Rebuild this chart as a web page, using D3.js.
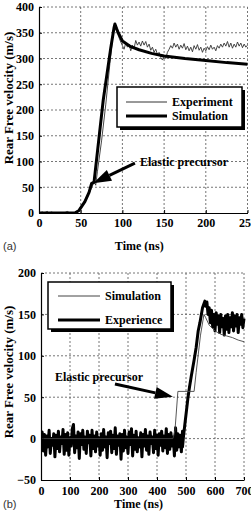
<!DOCTYPE html>
<html>
<head>
<meta charset="utf-8">
<script src="https://cdn.jsdelivr.net/npm/d3@7"></script>
<style>
  body { margin: 0; background: #fff; }
  svg { display: block; }
</style>
</head>
<body>
<svg id="chart" width="251" height="520"></svg>
<script>
// ---- panel (a) data ----
var aXTicks = [0, 50, 100, 150, 200, 250];
var aYTicks = [0, 50, 100, 150, 200, 250, 300, 350, 400];
var aExperiment = [
  [0,0],[4,2],[6,0],[10,3],[12,0],[15,2],[18,0],[30,0],[34,3],[37,0],[42,0],[46,3],[50,12],
  [55,24],[60,38],[64,52],[65,58],[67,58],[68,54],[70,80],[75,140],[80,210],[85,290],[89,350],
  [91,368],[93,362],[95,345],[97,336],[100,325],[102,318],[104,330],[106,322],[108,328],[110,315],
  [112,326],[114,320],[116,335],[118,326],[120,332],[122,324],[124,334],[126,326],[128,333],[130,322],
  [132,328],[134,316],[136,322],[138,312],[140,318],[142,308],[144,312],[146,302],[148,297],[150,306],
  [152,300],[154,312],[156,318],[158,325],[160,320],[162,330],[164,322],[166,328],[168,318],[170,326],
  [172,320],[174,329],[176,317],[178,324],[180,315],[182,322],[184,313],[186,325],[188,318],[190,327],
  [192,316],[194,322],[196,312],[198,320],[200,315],[202,323],[204,317],[206,326],[208,318],[210,322],
  [212,315],[214,325],[216,320],[218,328],[220,322],[222,330],[224,324],[226,333],[228,322],[230,330],
  [232,320],[234,328],[236,322],[238,332],[240,324],[242,330],[244,321],[246,328],[248,322],[250,326]
];
var aSimulation = [
  [0,0],[43,0],[48,5],[55,22],[60,40],[63,57],[66,60],[77,219],[86,320],[90,360],[91,367],
  [93,358],[95,350],[100,334],[110,323],[120,317],[135,310],[150,305],[175,300],[200,296],[225,292],[250,289]
];
var aArrow = { tail: [115, 97], tip: [65, 58], text: [121, 91] };

// ---- panel (b) data ----
var bXTicks = [0, 100, 200, 300, 400, 500, 600, 700];
var bYTicks = [-50, 0, 50, 100, 150, 200];
var bSimulation = [
  [0,0],[455,0],[462,10],[472,57],[528,57],[535,80],[550,125],[562,150],[568,146],
  [580,137],[600,130],[620,126],[640,124],[660,122],[680,119],[700,117]
];
// experience before the jump, one value every 4 ns
var bNoise = [
  -5,8,-15,5,-20,3,-10,10,-18,0,-8,6,-22,4,-12,9,-16,2,-6,11,-19,5,-14,7,-20,1,-9,12,17,-17,
  3,-11,8,-24,6,-7,10,-13,2,-18,9,-5,4,-21,10,-12,3,-16,8,-9,1,-20,6,-14,11,-10,2,-23,7,-6,
  9,-17,4,-12,13,-19,3,-8,6,-25,5,-15,10,-11,2,-18,8,-7,12,-21,4,-13,9,-16,1,-10,7,-22,5,-9,
  11,-14,3,-19,8,-6,2,-17,10,-12,4,-20,6,-8,9,-15,3,-11,12,-18,5,-13,7,-9,2,-21,13,-14,6,-10,
  4,-16,9
];
var bRise = [
  [488,-10],[492,5],[497,20],[502,35],[507,50],[512,62],[518,75],[523,85],[528,95],[535,110],
  [542,130],[548,140],[553,150],[557,158],[561,162],[565,166],[568,160],[572,165],[576,150],[580,158],
  [584,140],[588,155],[592,135],[596,150],[600,130],[604,152],[608,138],[612,148],[616,128],[620,150],
  [624,135],[628,145],[632,125],[636,148],[640,132],[644,150],[648,128],[652,146],[656,135],[660,152],
  [664,130],[668,148],[672,136],[676,150],[680,128],[684,146],[688,138],[692,150],[696,134],[700,145]
];
var bExperience = bNoise.map(function(v, i) { return [i * 4, v]; }).concat(bRise);
var bArrow = { tail: [255, 66], tip: [455, 50.5], text: [48, 69] };

var serif = '"Liberation Serif", "Times New Roman", "DejaVu Serif", serif';
var svg = d3.select('#chart');

function serifText(sel, size) {
  return sel.attr('font-family', serif).attr('font-weight', 'bold')
    .attr('font-size', size).attr('fill', '#000');
}

function drawPanel(p) {
  var g = svg.append('g');
  var x = d3.scaleLinear().domain(p.xDomain).range([p.left, p.right]);
  var y = d3.scaleLinear().domain(p.yDomain).range([p.bottom, p.top]);

  // grid
  g.selectAll('.gx').data(p.xTicks.slice(1)).enter().append('line')
    .attr('x1', function(d){return x(d);}).attr('x2', function(d){return x(d);})
    .attr('y1', p.top).attr('y2', p.bottom)
    .attr('stroke', '#666').attr('stroke-dasharray', '2,2').attr('stroke-width', 0.9);
  g.selectAll('.gy').data(p.yTicks.slice(1)).enter().append('line')
    .attr('y1', function(d){return y(d);}).attr('y2', function(d){return y(d);})
    .attr('x1', p.left).attr('x2', p.right)
    .attr('stroke', '#666').attr('stroke-dasharray', '2,2').attr('stroke-width', 0.9);

  var clipId = 'clip' + p.name;
  g.append('clipPath').attr('id', clipId).append('rect')
    .attr('x', p.left).attr('y', p.top - 2)
    .attr('width', p.right - p.left + 2).attr('height', p.bottom - p.top + 2);

  var line = d3.line().x(function(d){return x(d[0]);}).y(function(d){return y(d[1]);});
  var plot = g.append('g').attr('clip-path', 'url(#' + clipId + ')');
  p.series.forEach(function(s) {
    plot.append('path').datum(s.data).attr('d', line)
      .attr('fill', 'none').attr('stroke', s.color)
      .attr('stroke-width', s.width).attr('stroke-linejoin', 'round');
  });

  // axes
  var ax = g.append('g').attr('transform', 'translate(0,' + p.bottom + ')')
    .call(d3.axisBottom(x).tickValues(p.xTicks).tickFormat(d3.format('d'))
      .tickSizeInner(-3).tickSizeOuter(0).tickPadding(p.xPad));
  var ay = g.append('g').attr('transform', 'translate(' + p.left + ',0)')
    .call(d3.axisLeft(y).tickValues(p.yTicks).tickFormat(d3.format('d'))
      .tickSizeInner(-3).tickSizeOuter(0).tickPadding(5));
  [ax, ay].forEach(function(a) {
    a.attr('font-family', null).attr('font-size', null);
    a.select('.domain').attr('stroke-width', 1.2);
    serifText(a.selectAll('text'), 12);
  });

  // titles
  serifText(g.append('text'), 12)
    .attr('x', (p.left + p.right) / 2 - 4).attr('y', p.titleY)
    .attr('text-anchor', 'middle').text('Time (ns)');
  serifText(g.append('text'), 13)
    .attr('transform', 'translate(12.5,' + p.yTitleMid + ') rotate(-90)')
    .attr('text-anchor', 'middle').text('Rear Free velocity (m/s)');
  g.append('text').attr('font-family', '"Liberation Sans", Arial, sans-serif')
    .attr('font-size', 11).attr('fill', '#333')
    .attr('x', 3).attr('y', p.titleY).text(p.tag);

  // legend
  var L = p.legend;
  g.append('rect').attr('x', L.x + 3).attr('y', L.y + 3).attr('width', L.w).attr('height', L.h).attr('fill', '#000');
  g.append('rect').attr('x', L.x).attr('y', L.y).attr('width', L.w).attr('height', L.h)
    .attr('fill', '#fff').attr('stroke', '#000').attr('stroke-width', 1.5);
  L.items.forEach(function(it, i) {
    var yy = L.y + L.first + i * L.step;
    g.append('line').attr('x1', L.x + L.lx1).attr('x2', L.x + L.lx2).attr('y1', yy).attr('y2', yy)
      .attr('stroke', it.color).attr('stroke-width', it.width);
    serifText(g.append('text'), 12)
      .attr('x', L.x + L.tx).attr('y', yy + 4).text(it.label);
  });

  // elastic precursor annotation
  var A = p.arrow;
  var tx = x(A.tail[0]), ty = y(A.tail[1]), hx = x(A.tip[0]), hy = y(A.tip[1]);
  var ang = Math.atan2(hy - ty, hx - tx), len = 18, hw = 6;
  var bx = hx - len * Math.cos(ang), by = hy - len * Math.sin(ang);
  g.append('line').attr('x1', tx).attr('y1', ty).attr('x2', bx).attr('y2', by)
    .attr('stroke', '#000').attr('stroke-width', 3);
  g.append('polygon').attr('fill', '#000').attr('points', [
    [hx, hy],
    [bx + hw * Math.sin(ang), by - hw * Math.cos(ang)],
    [bx - hw * Math.sin(ang), by + hw * Math.cos(ang)]
  ].map(function(q){return q.join(',');}).join(' '));
  serifText(g.append('text'), 12)
    .attr('x', x(A.text[0])).attr('y', y(A.text[1])).text('Elastic precursor');
}

drawPanel({
  name: 'a', xDomain: [0, 250], yDomain: [0, 400],
  left: 39, right: 247.5, top: 7, bottom: 213,
  xTicks: aXTicks, yTicks: aYTicks, xPad: 5.5,
  titleY: 250, yTitleMid: 98, tag: '(a)',
  series: [
    { data: aExperiment, color: '#333', width: 0.9 },
    { data: aSimulation, color: '#000', width: 3 }
  ],
  legend: { x: 117, y: 87, w: 125, h: 40, first: 15, step: 14, lx1: 9, lx2: 50, tx: 55,
    items: [ { label: 'Experiment', color: '#333', width: 1 }, { label: 'Simulation', color: '#000', width: 3 } ] },
  arrow: aArrow
});

drawPanel({
  name: 'b', xDomain: [0, 700], yDomain: [-50, 200],
  left: 41, right: 244, top: 273, bottom: 480,
  xTicks: bXTicks, yTicks: bYTicks, xPad: 6,
  titleY: 508, yTitleMid: 372, tag: '(b)',
  series: [
    { data: bExperience, color: '#000', width: 3 },
    { data: bSimulation, color: '#444', width: 0.9 }
  ],
  legend: { x: 48, y: 282, w: 123, h: 47, first: 14, step: 24, lx1: 10, lx2: 52, tx: 57,
    items: [ { label: 'Simulation', color: '#444', width: 1 }, { label: 'Experience', color: '#000', width: 3 } ] },
  arrow: bArrow
});
</script>
</body>
</html>
